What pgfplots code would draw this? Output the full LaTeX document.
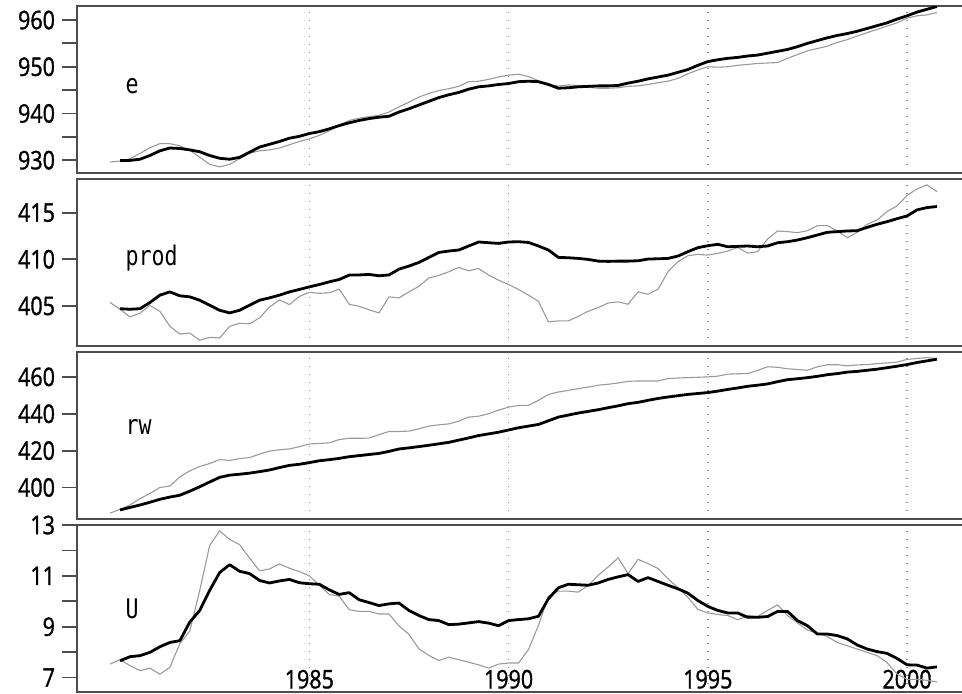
\documentclass[border=0pt]{standalone}
\usepackage{fontspec}
\setmainfont[FakeStretch=0.84, FakeBold=1.2]{Open Sans}
\newfontfamily\labfont[FakeStretch=0.8]{DejaVu Sans Mono}
\usepackage{pgfplots}
\usepackage{pgfplotstable}
\pgfplotsset{compat=1.18}

\definecolor{framec}{HTML}{4D4D4D}
\definecolor{actual}{HTML}{9A9A9A}
\definecolor{gridc}{HTML}{8C8C8C}

% Canadian labour market series, quarterly 1980Q1--2000Q4
\pgfplotstableread{
t e prod rw U
1980.00 929.61 405.37 386.14 7.53
1980.25 929.80 404.64 388.14 7.70
1980.50 930.32 403.81 390.54 7.47
1980.75 931.43 404.22 393.96 7.27
1981.00 932.66 405.05 396.76 7.37
1981.25 933.55 404.42 400.02 7.13
1981.50 933.53 402.82 400.75 7.40
1981.75 933.08 401.98 405.73 8.33
1982.00 932.12 402.09 409.05 8.83
1982.25 930.64 401.31 411.40 10.43
1982.50 929.10 401.63 413.02 12.20
1982.75 928.56 401.56 415.17 12.77
1983.00 929.10 402.81 414.66 12.43
1983.25 930.30 403.14 415.73 12.23
1983.50 931.50 403.08 416.23 11.70
1983.75 932.00 403.72 418.14 11.20
1984.00 932.20 404.87 419.74 11.27
1984.25 932.60 405.64 420.48 11.47
1984.50 933.30 405.14 420.93 11.30
1984.75 934.00 406.02 422.13 11.17
1985.00 934.55 406.45 423.61 11.00
1985.25 935.30 406.35 423.90 10.63
1985.50 936.30 406.40 424.21 10.27
1985.75 937.50 406.80 426.00 10.20
1986.00 938.50 405.18 426.70 9.67
1986.25 939.00 404.96 426.70 9.60
1986.50 939.30 404.58 426.80 9.60
1986.75 939.60 404.25 428.70 9.50
1987.00 940.30 405.97 430.40 9.50
1987.25 941.40 405.86 430.40 9.03
1987.50 942.40 406.50 430.60 8.70
1987.75 943.50 407.10 431.80 8.13
1988.00 944.30 408.00 433.30 7.87
1988.25 944.90 408.26 434.00 7.67
1988.50 945.30 408.66 434.50 7.80
1988.75 945.80 409.12 436.00 7.70
1989.00 946.80 408.76 438.20 7.60
1989.25 946.90 409.01 438.70 7.50
1989.50 947.30 408.30 440.00 7.37
1989.75 947.80 407.76 442.00 7.53
1990.00 948.20 407.29 443.60 7.57
1990.25 948.40 406.76 444.50 7.57
1990.50 947.90 406.15 444.60 8.10
1990.75 947.00 405.50 447.30 9.05
1991.00 946.10 403.28 450.50 10.20
1991.25 945.90 403.39 451.80 10.40
1991.50 946.10 403.39 452.70 10.40
1991.75 946.00 403.89 453.60 10.36
1992.00 945.60 404.43 454.50 10.63
1992.25 945.40 404.82 455.50 11.02
1992.50 945.40 405.32 456.00 11.35
1992.75 945.50 405.43 456.70 11.71
1993.00 945.80 405.18 457.60 11.09
1993.25 945.90 406.50 457.80 11.65
1993.50 946.20 406.25 457.80 11.48
1993.75 946.60 406.79 457.80 11.29
1994.00 946.90 408.66 459.10 10.89
1994.25 947.50 409.73 459.40 10.53
1994.50 948.50 410.38 459.60 10.16
1994.75 949.30 410.52 459.80 9.68
1995.00 950.00 410.45 460.00 9.54
1995.25 949.90 410.63 460.40 9.48
1995.50 950.00 410.88 461.50 9.44
1995.75 950.30 411.27 461.70 9.27
1996.00 950.50 410.66 461.80 9.44
1996.25 950.70 410.81 463.50 9.40
1996.50 950.80 412.17 465.50 9.64
1996.75 950.90 413.03 465.20 9.86
1997.00 951.80 412.96 464.40 9.44
1997.25 952.60 412.85 464.00 9.15
1997.50 953.40 413.06 463.60 8.87
1997.75 953.90 413.60 465.50 8.74
1998.00 954.40 413.60 466.60 8.61
1998.25 955.20 413.03 466.60 8.38
1998.50 955.80 412.31 466.00 8.25
1998.75 956.60 412.89 466.50 8.12
1999.00 957.30 413.75 466.70 7.99
1999.25 958.00 414.21 467.20 7.86
1999.50 958.70 415.11 467.60 7.59
1999.75 959.40 415.72 468.00 7.13
2000.00 960.40 416.83 469.50 6.93
2000.25 960.90 417.54 470.00 6.93
2000.50 961.10 417.97 470.50 6.89
2000.75 961.60 417.25 470.00 6.83
}\actualdata

% fitted values, 1980Q2--2000Q4
\pgfplotstableread{
t e prod rw U
1980.25 929.90 404.70 387.80 7.66
1980.50 929.95 404.64 389.20 7.82
1980.75 930.20 404.70 390.50 7.86
1981.00 931.00 405.36 392.00 7.99
1981.25 932.00 406.15 393.60 8.21
1981.50 932.60 406.50 394.80 8.38
1981.75 932.50 406.08 395.80 8.45
1982.00 932.20 405.97 398.00 9.18
1982.25 931.80 405.61 400.40 9.64
1982.50 931.00 405.07 403.00 10.43
1982.75 930.40 404.53 405.50 11.13
1983.00 930.20 404.25 406.70 11.44
1983.25 930.60 404.53 407.20 11.18
1983.50 931.70 405.07 407.80 11.09
1983.75 932.80 405.61 408.60 10.82
1984.00 933.40 405.86 409.50 10.72
1984.25 934.00 406.15 410.80 10.80
1984.50 934.70 406.50 412.00 10.86
1984.75 935.10 406.76 412.60 10.73
1985.00 935.70 407.04 413.50 10.69
1985.25 936.10 407.29 414.50 10.67
1985.50 936.70 407.58 415.10 10.45
1985.75 937.40 407.83 415.80 10.27
1986.00 938.00 408.30 416.70 10.34
1986.25 938.50 408.32 417.30 10.06
1986.50 938.90 408.37 417.90 9.95
1986.75 939.20 408.23 418.50 9.83
1987.00 939.40 408.32 419.60 9.90
1987.25 940.30 408.94 420.90 9.93
1987.50 941.00 409.27 421.50 9.64
1987.75 941.80 409.66 422.20 9.44
1988.00 942.60 410.20 422.90 9.28
1988.25 943.40 410.73 423.70 9.24
1988.50 944.00 410.88 424.50 9.08
1988.75 944.50 410.99 425.70 9.10
1989.00 945.20 411.42 426.90 9.15
1989.25 945.70 411.85 428.20 9.20
1989.50 945.90 411.77 429.10 9.14
1989.75 946.20 411.70 430.00 9.04
1990.00 946.40 411.85 431.20 9.24
1990.25 946.80 411.88 432.40 9.28
1990.50 946.90 411.80 433.30 9.31
1990.75 946.80 411.42 434.20 9.41
1991.00 946.20 410.99 436.20 10.10
1991.25 945.40 410.20 438.20 10.53
1991.50 945.50 410.16 439.30 10.67
1991.75 945.70 410.09 440.40 10.65
1992.00 945.80 409.98 441.30 10.63
1992.25 945.90 409.80 442.20 10.72
1992.50 945.90 409.77 443.30 10.86
1992.75 946.00 409.80 444.30 10.96
1993.00 946.50 409.80 445.50 11.05
1993.25 946.90 409.84 446.20 10.78
1993.50 947.40 410.02 447.30 10.93
1993.75 947.80 410.05 448.30 10.78
1994.00 948.20 410.09 449.10 10.63
1994.25 948.80 410.34 449.80 10.49
1994.50 949.40 410.81 450.50 10.32
1994.75 950.30 411.24 451.00 10.03
1995.00 951.10 411.45 451.50 9.80
1995.25 951.50 411.60 452.30 9.64
1995.50 951.80 411.34 453.20 9.54
1995.75 952.00 411.38 454.00 9.54
1996.00 952.30 411.42 454.90 9.37
1996.25 952.50 411.34 455.50 9.37
1996.50 952.90 411.42 456.20 9.40
1996.75 953.30 411.77 457.40 9.60
1997.00 953.70 411.88 458.50 9.60
1997.25 954.30 412.06 459.00 9.24
1997.50 955.00 412.31 459.60 9.04
1997.75 955.60 412.60 460.30 8.71
1998.00 956.20 412.89 461.20 8.71
1998.25 956.70 412.96 461.80 8.65
1998.50 957.10 413.03 462.60 8.52
1998.75 957.60 413.06 463.00 8.28
1999.00 958.20 413.42 463.60 8.12
1999.25 958.80 413.75 464.20 8.02
1999.50 959.40 414.03 465.00 7.95
1999.75 960.20 414.35 465.80 7.75
2000.00 960.90 414.64 466.70 7.50
2000.25 961.70 415.29 467.80 7.49
2000.50 962.30 415.54 468.70 7.37
2000.75 962.90 415.65 469.60 7.42
}\fitdata

\tikzset{
  actualline/.style={draw=actual, line width=0.55pt},
  fitline/.style={draw=black, line width=1.4pt},
  lab/.style={anchor=base west, inner sep=0pt, font=\labfont\fontsize{13.5}{15}\selectfont},
}

\pgfplotsset{
  panel/.style={
    scale only axis, width=446.5pt, height=83.5pt,
    anchor=north west,
    xmin=1979.17, xmax=2001.58,
    axis line style={draw=framec, line width=0.9pt},
    tick align=outside,
    major tick length=7.5pt,
    ytick pos=left,
    ytick style={draw=framec, line width=0.9pt},
    xtick={1985,1990,1995,2000},
    xticklabels={},
    xtick style={draw=none},
    xmajorgrids,
    grid style={draw=gridc, line width=0.75pt, dash pattern=on 0.75pt off 3.25pt},
    tick label style={font=\fontsize{12.8}{15}\selectfont},
    yticklabel style={anchor=east},
    /pgf/number format/assume math mode=true,
    every axis plot/.append style={no markers, line join=round},
  },
}

\begin{document}
\begin{tikzpicture}
% the frame extends a little past the right edge of the picture
\useasboundingbox (-38.5pt,3pt) rectangle (442.5pt,-343.5pt);

\begin{axis}[panel, at={(0pt,0pt)}, ymin=927.25, ymax=963.0,
  ytick={930,935,...,960}, yticklabels={930,,940,,950,,960}]
\addplot[actualline] table[x=t, y=e] {\actualdata};
\addplot[fitline] table[x=t, y=e] {\fitdata};
\node[lab] at (rel axis cs:0.054,0.477) {e};
\end{axis}

\begin{axis}[panel, at={(0pt,-86.5pt)}, ymin=400.7, ymax=418.6,
  ytick={405,410,415}]
\addplot[actualline] table[x=t, y=prod] {\actualdata};
\addplot[fitline] table[x=t, y=prod] {\fitdata};
\node[lab] at (rel axis cs:0.054,0.482) {prod};
\end{axis}

\begin{axis}[panel, at={(0pt,-173pt)}, ymin=382.9, ymax=473.5,
  ytick={400,420,440,460}]
\addplot[actualline] table[x=t, y=rw] {\actualdata};
\addplot[fitline] table[x=t, y=rw] {\fitdata};
\node[lab] at (rel axis cs:0.054,0.504) {rw};
\end{axis}

\begin{axis}[panel, at={(0pt,-259.5pt)}, ymin=6.43, ymax=13.0,
  ytick={7,8,...,13}, yticklabels={7,,9,,11,,13},
  xticklabels={1985,1990,1995,2000},
  xticklabel style={anchor=south, inner sep=0pt, yshift=9pt}]
\addplot[actualline] table[x=t, y=U] {\actualdata};
\addplot[fitline] table[x=t, y=U] {\fitdata};
\node[lab] at (rel axis cs:0.054,0.441) {U};
\end{axis}
\end{tikzpicture}
\end{document}
